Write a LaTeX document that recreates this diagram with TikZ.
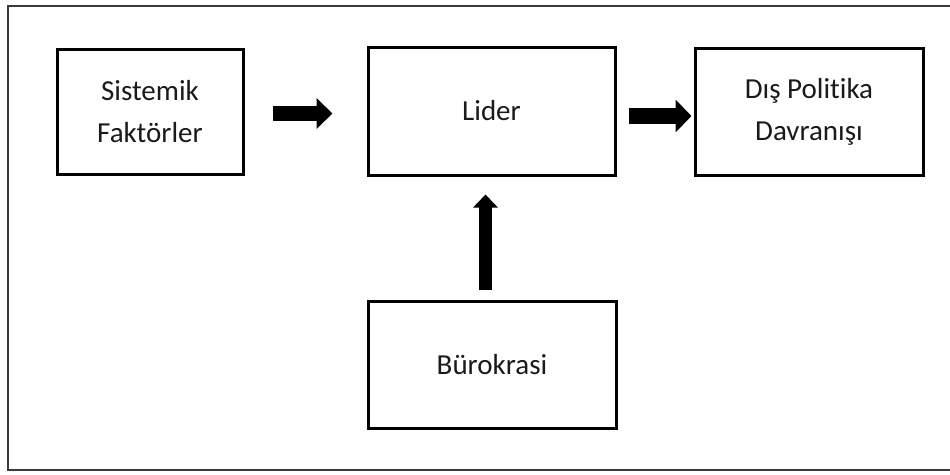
\documentclass[tikz,border=0pt]{standalone}
\usepackage{fontspec}
\setmainfont{Carlito}[Ligatures={NoCommon}]
\usetikzlibrary{arrows.meta}
\definecolor{ink}{HTML}{1A1A1A}
\definecolor{framegray}{HTML}{3A3A3A}
\tikzset{
  stagebox/.style={draw=black, line width=3pt, fill=white, align=center,
    text=ink, font=\fontsize{29}{42}\selectfont, inner sep=0pt},
  blockarrow/.style={draw=black, line width=#1},
  outerframe/.style={draw=framegray, line width=2pt}
}
\begin{document}
\begin{tikzpicture}[x=1pt, y=-1pt]
  \useasboundingbox (0,0) rectangle (950,474);
  % enclosing frame (open on the right edge)
  \draw[outerframe] (950,6) -- (8,6) -- (8,470) -- (950,470);

  % stages
  \node[stagebox, minimum width=186pt, minimum height=125pt] (sis) at (150,111.5) {Sistemik\\Faktörler};
  \node[stagebox, minimum width=247pt, minimum height=128pt] (lid) at (491.5,111) {Lider};
  \node[stagebox, minimum width=228pt, minimum height=127pt] (dis) at (809,111.5) {Dış Politika\\Davranışı};
  \node[stagebox, minimum width=248pt, minimum height=127pt] (bur) at (492,364.5) {Bürokrasi};

  % influence arrows
  \draw[blockarrow=15pt, -{Triangle[length=16pt,width=30pt]}, shorten <=28pt, shorten >=34pt]
    ([yshift=-2pt]sis.east) -- ([yshift=-2pt]sis.east -| lid.west);
  \draw[blockarrow=16pt, -{Triangle[length=16pt,width=32pt]}, shorten <=12pt, shorten >=2pt]
    ([yshift=-5pt]lid.east) -- ([yshift=-5pt]lid.east -| dis.west);
  \draw[blockarrow=13pt, -{Triangle[length=13pt,width=24pt]}, shorten <=10pt, shorten >=18pt]
    ([xshift=-6.5pt]bur.north) -- ([xshift=-6.5pt]bur.north |- lid.south);
\end{tikzpicture}
\end{document}
